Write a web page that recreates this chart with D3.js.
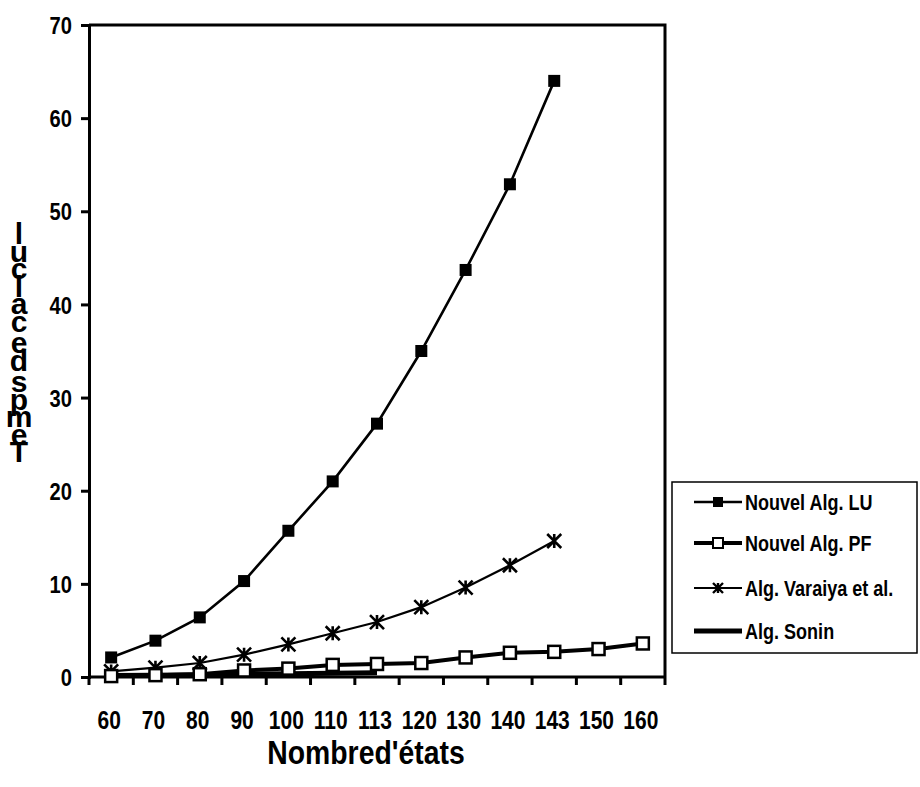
<!DOCTYPE html>
<html>
<head>
<meta charset="utf-8">
<script src="https://cdn.jsdelivr.net/npm/d3@7/dist/d3.min.js"></script>
<style>
  html, body { margin: 0; padding: 0; background: #fff; }
  svg text { font-family: "Liberation Sans", Arial, sans-serif; font-weight: bold; fill: #000; }
</style>
</head>
<body>
<svg id="chart" width="920" height="787"></svg>
<script>
// Number of states on the x axis (categorical)
const categories = ["60", "70", "80", "90", "100", "110", "113", "120", "130", "140", "143", "150", "160"];

// Computation time per algorithm (one value per category; shorter series stop early)
const nouvelLU = [2.1, 3.9, 6.4, 10.3, 15.7, 21.0, 27.2, 35.0, 43.7, 52.9, 64.0];
const nouvelPF = [0.1, 0.2, 0.3, 0.7, 0.9, 1.3, 1.4, 1.5, 2.1, 2.6, 2.7, 3.0, 3.6];
const varaiya  = [0.6, 1.0, 1.5, 2.4, 3.5, 4.7, 5.9, 7.5, 9.6, 12.0, 14.6];
const sonin    = [0.15, 0.2, 0.25, 0.3, 0.35, 0.4, 0.45];

const yTicks = [0, 10, 20, 30, 40, 50, 60, 70];
const seriesNames = ["Nouvel Alg. LU", "Nouvel Alg. PF", "Alg. Varaiya et al.", "Alg. Sonin"];
const xTitle = "Nombred'états";
const yTitle = "Temps de calcul";

const svg = d3.select("#chart");
const plot = { left: 89, right: 665, top: 25, bottom: 677 };

const x = d3.scaleBand().domain(categories).range([plot.left, plot.right]).padding(0);
const y = d3.scaleLinear().domain([0, 70]).range([plot.bottom, plot.top]);
const cx = c => x(c) + x.bandwidth() / 2;

// squeeze text horizontally around its anchor point (condensed look)
function condense(sel, k) {
  sel.each(function () {
    const t = d3.select(this);
    const ax = +t.attr("x") || 0;
    t.attr("transform", `translate(${ax},0) scale(${k},1) translate(${-ax},0)`);
  });
}

// Plot frame (top and right edges)
svg.append("path")
  .attr("d", `M${plot.left},${plot.top}H${plot.right}V${plot.bottom}`)
  .attr("fill", "none").attr("stroke", "#000").attr("stroke-width", 3);

// Y axis
const yAxis = svg.append("g")
  .attr("transform", `translate(${plot.left},0)`)
  .call(d3.axisLeft(y).tickValues(yTicks).tickSize(8).tickPadding(9).tickFormat(d3.format("d")));
yAxis.select(".domain").attr("stroke-width", 3);
yAxis.selectAll(".tick line").attr("stroke-width", 3);
yAxis.selectAll(".tick text")
  .attr("font-size", 24).attr("font-family", null).attr("dy", "0.36em")
  .call(condense, 0.84);

// X axis: ticks at category boundaries, labels at category centers
const xAxisG = svg.append("g").attr("transform", `translate(0,${plot.bottom})`);
xAxisG.append("line")
  .attr("x1", plot.left).attr("x2", plot.right)
  .attr("stroke", "#000").attr("stroke-width", 3);
xAxisG.selectAll("line.tick")
  .data(categories.concat(["__end"]))
  .join("line").attr("class", "tick")
  .attr("x1", (d, i) => plot.left + i * x.bandwidth())
  .attr("x2", (d, i) => plot.left + i * x.bandwidth())
  .attr("y1", 0).attr("y2", 8)
  .attr("stroke", "#000").attr("stroke-width", 3);
xAxisG.selectAll("text")
  .data(categories)
  .join("text")
  .attr("x", d => cx(d) - 2).attr("y", 52)
  .attr("text-anchor", "middle").attr("font-size", 25)
  .text(d => d)
  .call(condense, 0.84);

// Axis titles
svg.append("text")
  .attr("x", 366).attr("y", 764)
  .attr("text-anchor", "middle").attr("font-size", 33)
  .text(xTitle)
  .call(condense, 0.86);

// Y title: letters stacked from the bottom up, overlapping
const yChars = Array.from(yTitle);
let yPos = 462;
const yLetters = [];
yChars.forEach(ch => {
  if (ch === " ") { yPos -= 4; return; }
  yLetters.push({ ch, y: yPos });
  yPos -= 17.5;
});
svg.append("g").selectAll("text")
  .data(yLetters)
  .join("text")
  .attr("x", 19).attr("y", d => d.y)
  .attr("text-anchor", "middle").attr("font-size", 30)
  .text(d => d.ch);

// Series lines
const line = d3.line().x(d => cx(d.c)).y(d => y(d.v));
const toPts = arr => arr.map((v, i) => ({ c: categories[i], v }));

const g = svg.append("g");
g.append("path").datum(toPts(sonin)).attr("d", line)
  .attr("fill", "none").attr("stroke", "#000").attr("stroke-width", 5);
g.append("path").datum(toPts(nouvelPF)).attr("d", line)
  .attr("fill", "none").attr("stroke", "#000").attr("stroke-width", 4);
g.append("path").datum(toPts(varaiya)).attr("d", line)
  .attr("fill", "none").attr("stroke", "#000").attr("stroke-width", 2.2);
g.append("path").datum(toPts(nouvelLU)).attr("d", line)
  .attr("fill", "none").attr("stroke", "#000").attr("stroke-width", 2.6);

// Markers
function starMarker(sel, s, w) {
  sel.append("path")
    .attr("d", `M${-s},${-s}L${s},${s}M${s},${-s}L${-s},${s}M0,${-s}V${s}`)
    .attr("stroke", "#000").attr("stroke-width", w).attr("fill", "none");
}
g.selectAll("g.var").data(toPts(varaiya)).join("g").attr("class", "var")
  .attr("transform", d => `translate(${cx(d.c)},${y(d.v)})`)
  .call(starMarker, 7, 2.6);
g.selectAll("rect.pf").data(toPts(nouvelPF)).join("rect").attr("class", "pf")
  .attr("x", d => cx(d.c) - 6).attr("y", d => y(d.v) - 6)
  .attr("width", 12).attr("height", 12)
  .attr("fill", "#fff").attr("stroke", "#000").attr("stroke-width", 2.5);
g.selectAll("rect.lu").data(toPts(nouvelLU)).join("rect").attr("class", "lu")
  .attr("x", d => cx(d.c) - 6).attr("y", d => y(d.v) - 6)
  .attr("width", 12).attr("height", 12).attr("fill", "#000");

// Legend
const legend = svg.append("g");
legend.append("rect")
  .attr("x", 672).attr("y", 482).attr("width", 245).attr("height", 171)
  .attr("fill", "#fff").attr("stroke", "#000").attr("stroke-width", 1.5);
const rowsY = [502, 543, 588, 631];
const lw = [2.6, 4, 2.2, 5];
seriesNames.forEach((name, i) => {
  const ry = rowsY[i];
  legend.append("line").attr("x1", 694).attr("x2", 742).attr("y1", ry).attr("y2", ry)
    .attr("stroke", "#000").attr("stroke-width", lw[i]);
  const mk = legend.append("g").attr("transform", `translate(718,${ry})`);
  if (i === 0) mk.append("rect").attr("x", -5).attr("y", -5).attr("width", 10).attr("height", 10).attr("fill", "#000");
  if (i === 1) mk.append("rect").attr("x", -5).attr("y", -5).attr("width", 10).attr("height", 10)
    .attr("fill", "#fff").attr("stroke", "#000").attr("stroke-width", 2);
  if (i === 2) mk.call(starMarker, 5, 2.4);
  legend.append("text").attr("x", 745).attr("y", ry).attr("dy", "0.36em")
    .attr("font-size", 22).text(name)
    .call(condense, 0.82);
});
</script>
</body>
</html>
